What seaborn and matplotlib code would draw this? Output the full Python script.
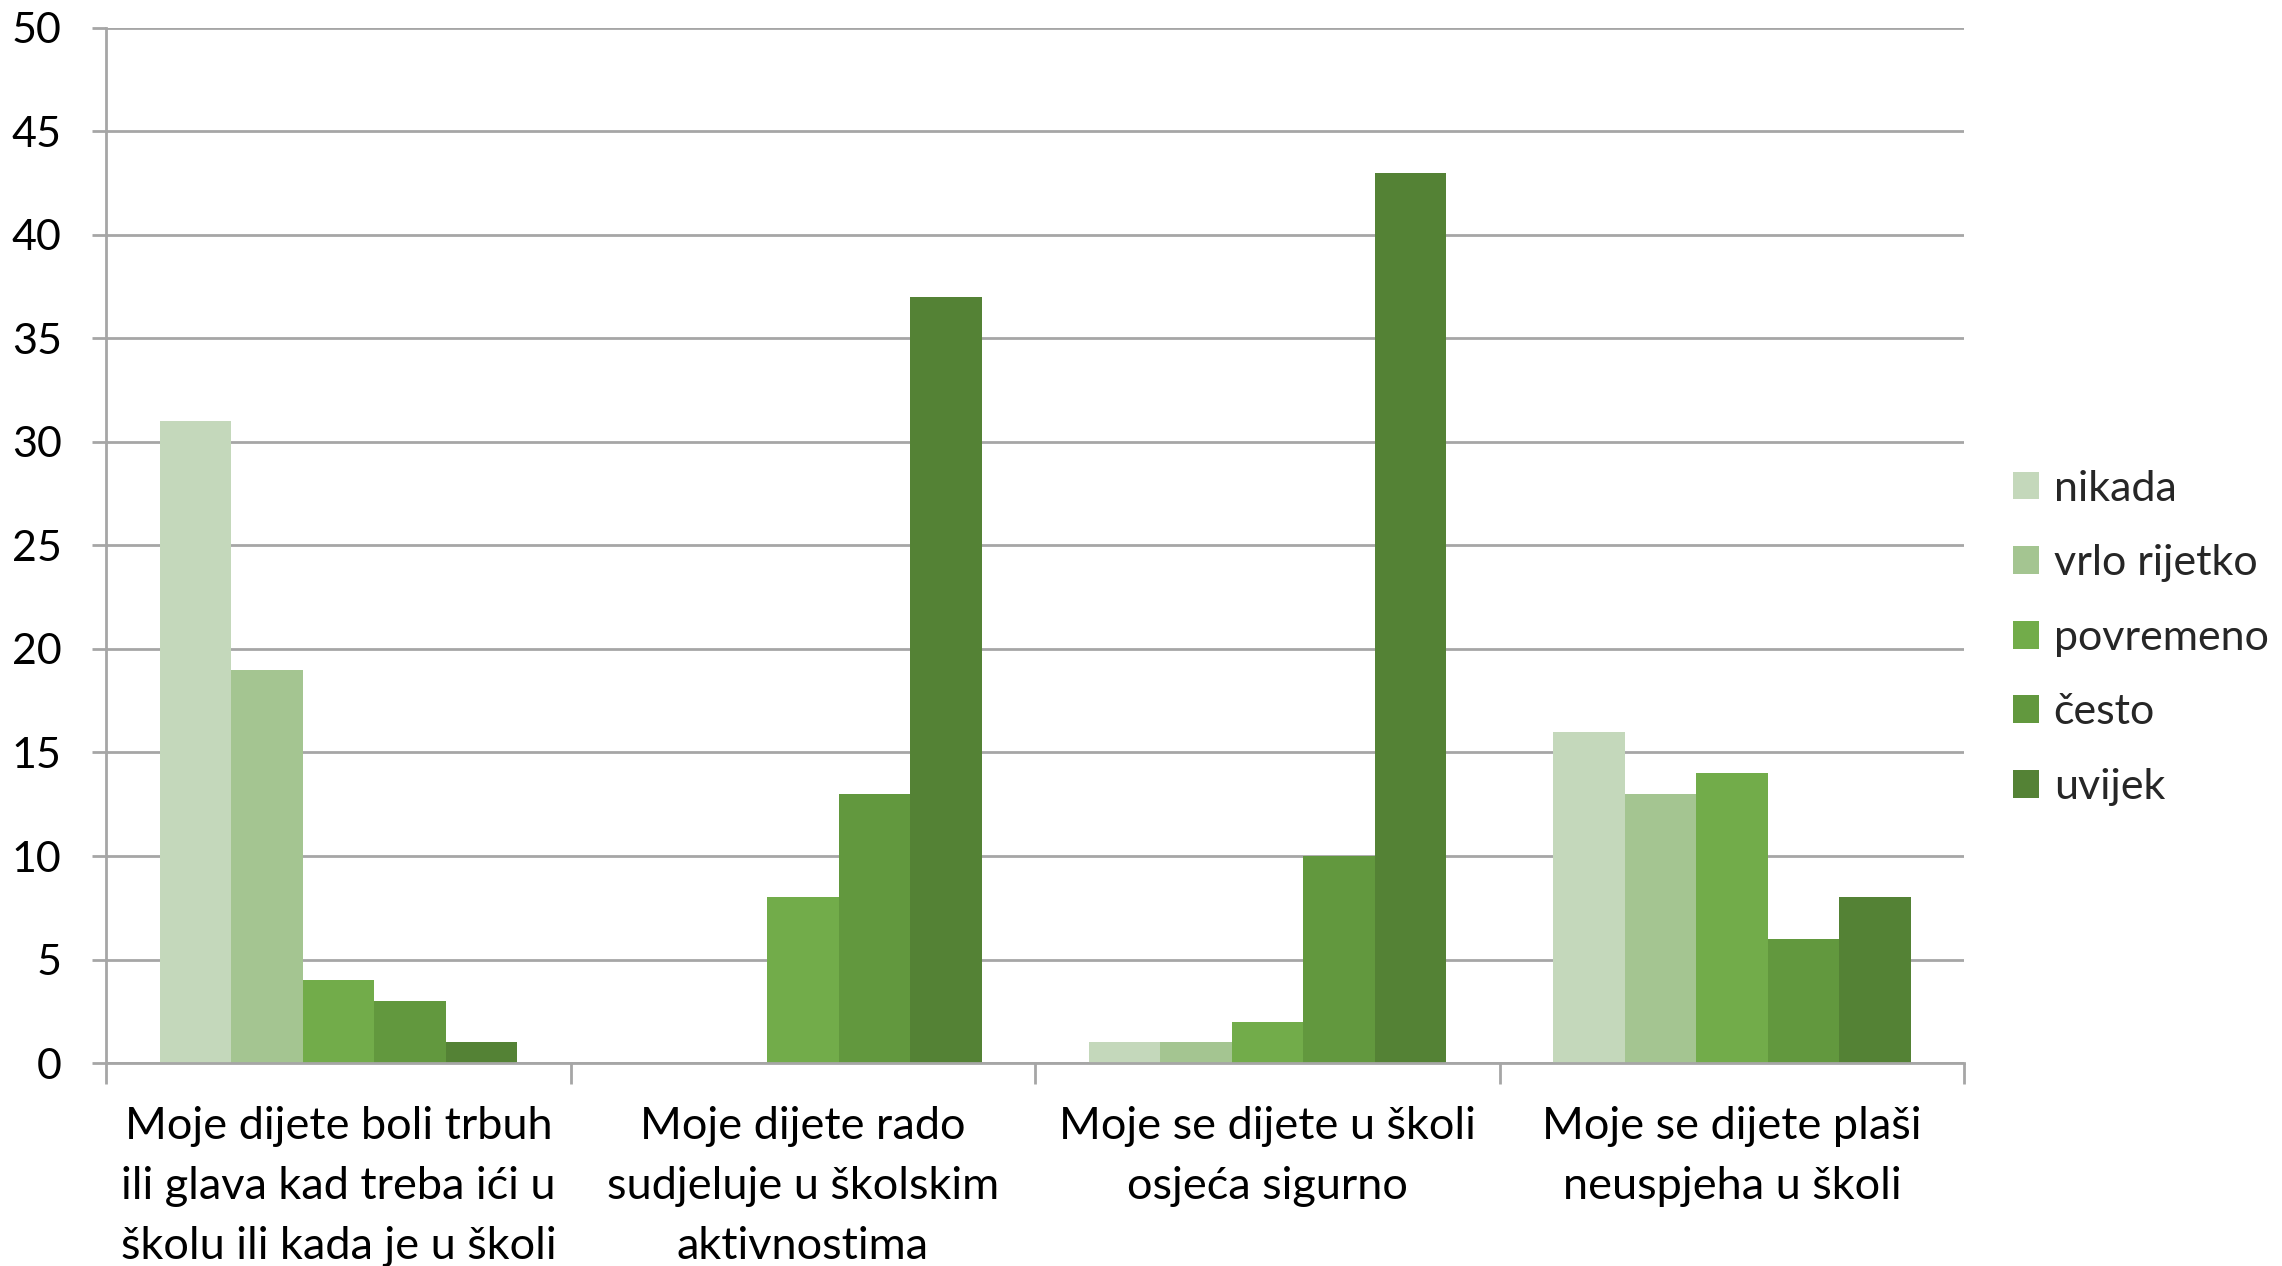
import matplotlib
matplotlib.use("Agg")
import matplotlib.pyplot as plt
import seaborn as sns
import pandas as pd

categories = [
    "Moje dijete boli trbuh\nili glava kad treba ići u\nškolu ili kada je u školi",
    "Moje dijete rado\nsudjeluje u školskim\naktivnostima",
    "Moje se dijete u školi\nosjeća sigurno",
    "Moje se dijete plaši\nneuspjeha u školi",
]
series = ["nikada", "vrlo rijetko", "povremeno", "često", "uvijek"]
nikada = [31, 0, 1, 16]
vrlo_rijetko = [19, 0, 1, 13]
povremeno = [4, 8, 2, 14]
cesto = [3, 13, 10, 6]
uvijek = [1, 37, 43, 8]
colors = ["#C4D8BB", "#A4C591", "#72AC4A", "#62983E", "#548235"]

rows = []
for s, vals in zip(series, [nikada, vrlo_rijetko, povremeno, cesto, uvijek]):
    for c, v in zip(categories, vals):
        rows.append({"cat": c, "series": s, "value": v})
df = pd.DataFrame(rows)

sns.set_theme(style="white")
plt.rcParams['font.family'] = ['Lato', 'DejaVu Sans']

fig = plt.figure(figsize=(22.82, 12.66), dpi=100)
ax = fig.add_axes([0.0465, 0.1603, 0.8142, 0.8177])

sns.barplot(data=df, x="cat", y="value", hue="series", order=categories,
            hue_order=series, palette=colors, width=0.77, ax=ax,
            linewidth=0, saturation=1, legend=True, errorbar=None)

ax.set_ylim(0, 50)
ax.set_xlim(-0.5, 3.5)
ax.set_yticks(range(0, 51, 5))
ax.yaxis.grid(True, color="#A6A6A6", linewidth=2)
ax.set_axisbelow(True)
ax.set_xlabel("")
ax.set_ylabel("")
for sp in ["top", "right"]:
    ax.spines[sp].set_visible(False)
for sp in ["left", "bottom"]:
    ax.spines[sp].set_color("#A6A6A6")
    ax.spines[sp].set_linewidth(2)

ax.tick_params(axis="y", labelsize=31, length=10, width=2, color="#A6A6A6",
               direction="out", left=True, pad=22, labelcolor="black")
ax.set_xticks([0, 1, 2, 3])
ax.set_xticklabels(categories, fontsize=32.5, linespacing=1.58)
ax.tick_params(axis="x", length=0, pad=31, labelcolor="black")
# category boundary ticks
ax.set_xticks([-0.5, 0.5, 1.5, 2.5, 3.5], minor=True)
ax.tick_params(axis="x", which="minor", length=15, width=2, color="#A6A6A6",
               direction="out", bottom=True)

handles, labels = ax.get_legend_handles_labels()
ax.get_legend().remove()
fig.legend(handles, labels, loc="upper left", bbox_to_anchor=(0.882, 0.629),
           frameon=False, fontsize=31, handlelength=0.62, handleheight=0.62,
           handletextpad=0.33, labelspacing=0.85, borderpad=0, borderaxespad=0)

fig.savefig("out.png", dpi=100)
